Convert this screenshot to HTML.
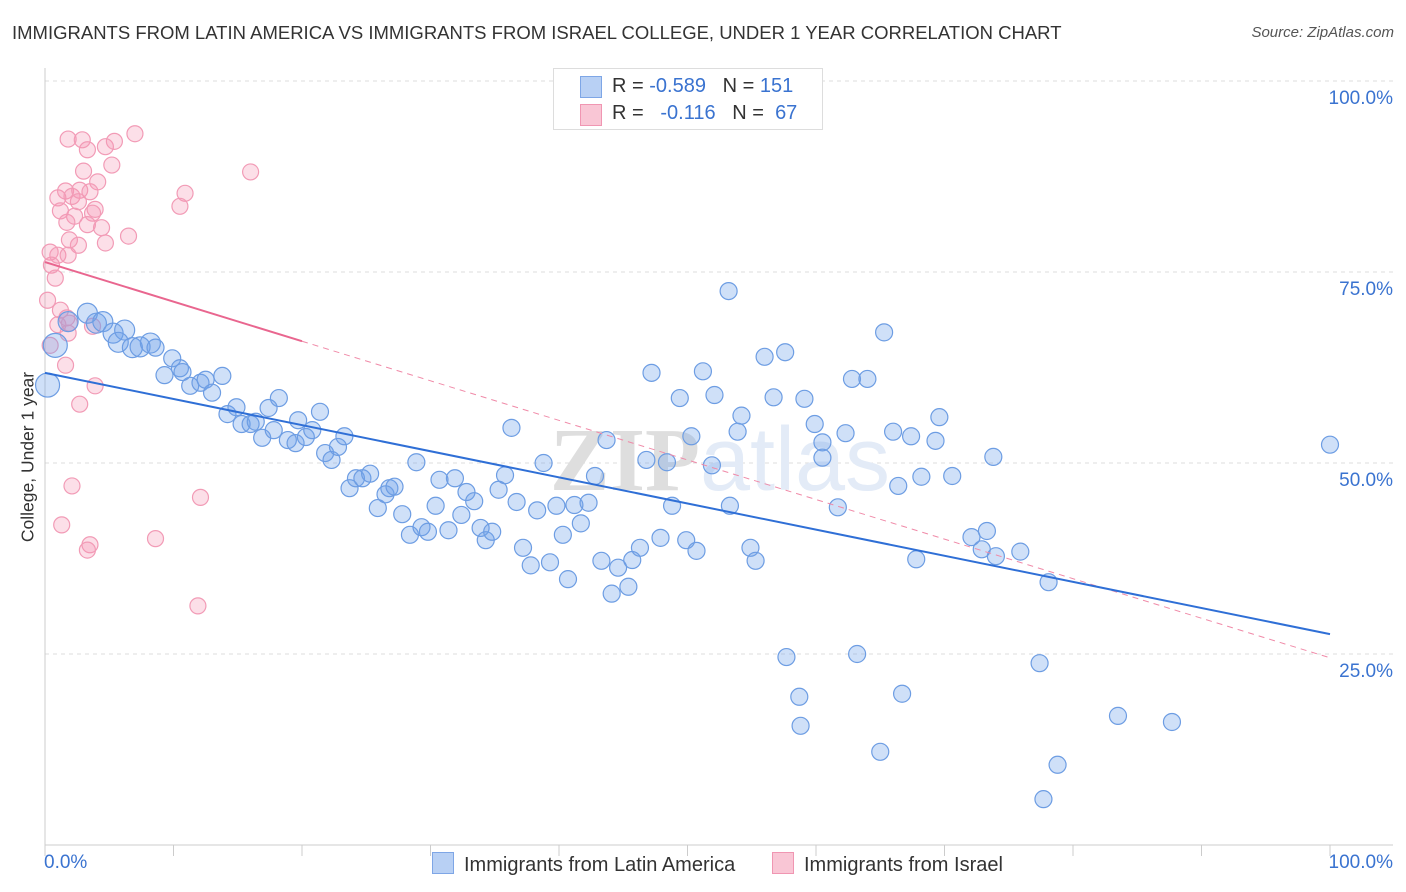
<!DOCTYPE html>
<html><head><meta charset="utf-8"><style>
body{margin:0;background:#fff;font-family:"Liberation Sans",sans-serif;}
#wrap{position:relative;width:1406px;height:892px;overflow:hidden;}
.t{position:absolute;white-space:nowrap;}
</style></head><body>
<div id="wrap">
<div class="t" style="left:12px;top:22px;font-size:18.5px;color:#333;">IMMIGRANTS FROM LATIN AMERICA VS IMMIGRANTS FROM ISRAEL COLLEGE, UNDER 1 YEAR CORRELATION CHART</div>
<div class="t" style="right:12px;top:24px;font-size:15px;color:#555;font-style:italic;">Source: ZipAtlas.com</div>
<div class="t" style="left:28px;top:457px;font-size:17.5px;color:#333;transform:translate(-50%,-50%) rotate(-90deg);">College, Under 1 year</div>
<svg id="plot" width="1406" height="892" style="position:absolute;left:0;top:0"></svg>
<div class="t" style="left:553px;top:68px;width:268px;height:60px;border:1px solid #ddd;background:#fff;font-size:20px;color:#333;">
 <div style="position:absolute;left:26px;top:7px;width:20px;height:20px;background:#b8d0f4;border:1px solid #7ea6e6;"></div>
 <div class="t" style="left:58px;top:6px;">R = <span style="color:#3a73d0">-0.589</span>&nbsp;&nbsp;&nbsp;N = <span style="color:#3a73d0">151</span></div>
 <div style="position:absolute;left:26px;top:35px;width:20px;height:20px;background:#f9c6d5;border:1px solid #f096b2;"></div>
 <div class="t" style="left:58px;top:33px;">R = &nbsp;&nbsp;<span style="color:#3a73d0">-0.116</span>&nbsp;&nbsp;&nbsp;N = &nbsp;<span style="color:#3a73d0">67</span></div>
</div>
<div class="t" style="left:44px;top:852px;font-size:19px;color:#3a73d0;">0.0%</div>
<div class="t" style="right:13px;top:852px;font-size:19px;color:#3a73d0;">100.0%</div>
<div class="t" style="left:432px;top:852px;font-size:20px;color:#333;"><span style="display:inline-block;width:20px;height:20px;background:#b8d0f4;border:1px solid #7ea6e6;vertical-align:-3px;margin-right:10px;"></span>Immigrants from Latin America</div>
<div class="t" style="left:772px;top:852px;font-size:20px;color:#333;"><span style="display:inline-block;width:20px;height:20px;background:#f9c6d5;border:1px solid #f096b2;vertical-align:-3px;margin-right:10px;"></span>Immigrants from Israel</div>
</div>
<script>
const yTicks=[25,50,75,100];
const yTickLabels=["25.0%","50.0%","75.0%","100.0%"];
const xTicks=[0,10,20,30,40,50,60,70,80,90,100];
const blueX=[0.2,0.8,1.8,3.3,4.0,4.5,5.3,6.2,5.7,6.8,7.4,8.2,8.6,9.3,9.9,10.5,10.7,11.3,12.1,12.5,13.0,13.8,14.2,14.9,15.3,16.0,16.4,16.9,17.4,17.8,18.2,18.9,19.5,19.7,20.3,20.8,21.4,21.8,22.3,22.8,23.3,23.7,24.2,24.7,25.3,25.9,26.5,26.8,27.2,27.8,28.4,28.9,29.3,29.8,30.4,30.7,31.4,31.9,32.4,32.8,33.4,33.9,34.3,34.8,35.3,35.8,36.3,36.7,37.2,37.8,38.3,38.8,39.3,39.8,40.3,40.7,41.2,41.7,42.3,42.8,43.3,43.7,44.1,44.6,45.4,45.7,46.3,46.8,47.2,47.9,48.4,48.8,49.4,49.9,50.3,50.7,51.2,51.9,52.1,53.2,53.3,53.9,54.2,54.9,55.3,56.0,56.7,57.7,57.6,58.7,58.8,59.1,59.9,60.5,60.5,61.7,62.3,62.8,63.2,64.0,65.0,65.3,66.0,66.4,66.7,67.4,67.8,68.2,69.3,69.6,70.6,72.1,72.9,73.3,74.0,73.8,75.9,77.4,77.7,78.1,78.8,83.5,87.7,100];
const blueY=[60.2,65.4,68.5,69.6,68.3,68.5,67.0,67.4,65.8,65.1,65.2,65.7,65.1,61.5,63.7,62.4,61.9,60.1,60.5,60.9,59.2,61.4,56.4,57.3,55.1,55.1,55.4,53.3,57.2,54.3,58.5,53.0,52.6,55.6,53.4,54.3,56.7,51.3,50.4,52.1,53.5,46.7,48.0,48.0,48.6,44.1,45.9,46.7,46.9,43.3,40.6,50.1,41.6,41.0,44.4,47.8,41.2,48.0,43.2,46.2,45.0,41.5,39.9,41.0,46.5,48.4,54.6,44.9,38.9,36.6,43.8,50.0,37.0,44.4,40.6,34.8,44.5,42.1,44.8,48.3,37.2,53.0,32.9,36.3,33.8,37.3,38.9,50.4,61.8,40.2,50.1,44.4,58.5,39.9,53.5,38.5,62.0,49.7,58.9,72.5,44.4,54.1,56.2,38.9,37.2,63.9,58.6,24.6,64.5,19.4,15.6,58.4,55.1,52.7,50.7,44.2,53.9,61.0,25.0,61.0,12.2,67.1,54.1,47.0,19.8,53.5,37.4,48.2,52.9,56.0,48.3,40.3,38.7,41.1,37.8,50.8,38.4,23.8,6.0,34.4,10.5,16.9,16.1,52.4];
const pinkX=[1.8,2.9,4.7,5.4,7.0,3.3,5.2,3.0,16.0,4.1,10.9,1.0,1.6,2.1,2.7,3.5,1.2,2.6,3.9,2.3,3.7,10.5,1.7,3.3,4.4,6.5,1.9,2.6,4.7,0.4,1.0,1.8,0.5,0.8,0.2,1.2,1.7,1.0,1.9,3.7,1.8,0.4,1.6,3.9,2.7,2.1,12.1,1.3,8.6,3.5,3.3,11.9];
const pinkY=[92.4,92.3,91.4,92.1,93.1,91.0,89.0,88.2,88.1,86.8,85.3,84.7,85.6,84.9,85.7,85.5,83.0,84.2,83.2,82.3,82.7,83.6,81.5,81.2,80.8,79.7,79.2,78.5,78.8,77.6,77.2,77.2,75.9,74.2,71.3,70.0,69.0,68.1,68.3,67.9,67.0,65.4,62.8,60.1,57.7,47.0,45.5,41.9,40.1,39.3,38.6,31.3];
const blueTrend=[61.8,27.6];
const pinkTrend=[76.3,24.5];
const pinkSolidEnd=20;
const X=v=>45+v*12.85, Y=v=>845-v*7.64;
const svg=document.getElementById('plot');
const NS='http://www.w3.org/2000/svg';
function mk(tag,attrs){const e=document.createElementNS(NS,tag);for(const k in attrs)e.setAttribute(k,attrs[k]);svg.appendChild(e);return e;}
yTicks.forEach((t,i)=>{
 const g=mk('line',{x1:45,x2:1393,y1:Y(t),y2:Y(t),stroke:'#ddd','stroke-dasharray':'4,4'});
 
 
 const tx=mk('text',{x:1393,y:Y(t)+23,'text-anchor':'end','font-size':19,fill:'#3a73d0','font-family':'Liberation Sans, sans-serif'});
 tx.textContent=yTickLabels[i];
 
 
});
const ax=mk('line',{x1:45,x2:45,y1:68,y2:845,stroke:'#ccc'});


const bx=mk('line',{x1:45,x2:1393,y1:845,y2:845,stroke:'#ccc'});


xTicks.forEach(t=>{
 const l=mk('line',{x1:X(t),x2:X(t),y1:845,y2:856,stroke:'#ccc'});
 
 
});
const wm=mk('text',{x:720,y:490,'text-anchor':'middle','font-size':90,fill:'#e8e8e8','font-family':'Liberation Serif, serif'});
wm.innerHTML='<tspan font-weight="bold" fill="#dedede">ZIP</tspan><tspan font-family="Liberation Sans, sans-serif" fill="#e3ebf7">atlas</tspan>';


pinkX.forEach((x,i)=>{
 const c=mk('circle',{cx:X(x),cy:Y(pinkY[i]),r:8,fill:'rgba(244,150,180,0.3)',stroke:'#f29bb6','stroke-width':1.2});
 
 
});
blueX.forEach((x,i)=>{
 const r=i<2?12:(i<12?10:8.5);
 const c=mk('circle',{cx:X(x),cy:Y(blueY[i]),r:r,fill:'rgba(110,160,235,0.33)',stroke:'#6d9de3','stroke-width':1.2});
 
 
});
const py=x=>pinkTrend[0]+(pinkTrend[1]-pinkTrend[0])*x/100;
const pd=mk('line',{x1:X(pinkSolidEnd),y1:Y(py(pinkSolidEnd)),x2:X(100),y2:Y(py(100)),stroke:'#f08aa8','stroke-width':1,'stroke-dasharray':'6,5'});


const ps=mk('line',{x1:X(0),y1:Y(py(0)),x2:X(pinkSolidEnd),y2:Y(py(pinkSolidEnd)),stroke:'#e9668f','stroke-width':2});


const bl=mk('line',{x1:X(0),y1:Y(blueTrend[0]),x2:X(100),y2:Y(blueTrend[1]),stroke:'#2f6fd6','stroke-width':2});


</script>
</body></html>
